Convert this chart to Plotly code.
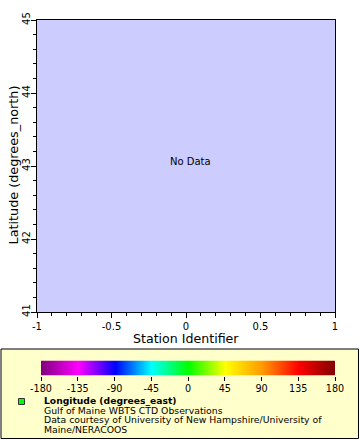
import plotly.graph_objects as go

W, H = 360, 440

# Data (empty: "No Data")
station_ids = []
latitudes = []

x_range = [-1, 1]
y_range = [41, 45]
x_ticks = [-1, -0.5, 0, 0.5, 1]
x_ticklabels = ["-1", "-0.5", "0", "0.5", "1"]
y_ticks = [41, 42, 43, 44, 45]
y_ticklabels = ["41", "42", "43", "44", "45"]
cbar_ticks = [-180, -135, -90, -45, 0, 45, 90, 135, 180]
cbar_colors = ["#800080", "#ff00ff", "#0000ff", "#00ffff", "#00ff00",
               "#ffff00", "#ff9900", "#ff0000", "#800000"]

x_title = "Station Identifier"
y_title = "Latitude (degrees_north)"
legend_title = "Longitude (degrees_east)"
legend_lines = ["Gulf of Maine WBTS CTD Observations",
                "Data courtesy of University of New Hampshire/University of",
                "Maine/NERACOOS"]

FONT = "DejaVu Sans"

def px(x):
    return x / W

def py(y):
    return 1 - y / H

n = len(cbar_ticks)
colorscale = [[i / (n - 1), c] for i, c in enumerate(cbar_colors)]

fig = go.Figure()
fig.add_trace(go.Scatter(x=station_ids, y=latitudes, mode="markers",
                         showlegend=False, hoverinfo="skip"))

# colour bar as a smooth heatmap on its own axes
fig.add_trace(go.Heatmap(
    x=cbar_ticks, y=[0, 1], z=[cbar_ticks, cbar_ticks],
    zmin=-180, zmax=180, colorscale=colorscale, zsmooth="best",
    showscale=False, hoverinfo="skip", xaxis="x2", yaxis="y2"))

fig.update_layout(
    width=W, height=H,
    margin=dict(l=0, r=0, t=0, b=0, autoexpand=False),
    paper_bgcolor="white",
    plot_bgcolor="#ccccff",
    font=dict(family=FONT, size=10, color="black"),
    showlegend=False,
    xaxis=dict(domain=[px(37), px(335)], range=x_range, tickvals=x_ticks,
               ticktext=x_ticklabels, showgrid=False, zeroline=False,
               showline=True, mirror=True, linecolor="black", linewidth=1,
               ticks="outside", ticklen=5, tickcolor="black", automargin=False,
               minor=dict(dtick=0.1, ticks="outside", ticklen=3, tickcolor="black"),
               tickfont=dict(size=10), fixedrange=True),
    yaxis=dict(domain=[py(312), py(20)], range=y_range, tickvals=y_ticks,
               ticktext=y_ticklabels, showgrid=False, zeroline=False,
               showline=True, mirror=True, linecolor="black", linewidth=1,
               ticks="outside", ticklen=5, tickcolor="black", tickangle=-90,
               automargin=False, ticklabelstandoff=-3,
               minor=dict(dtick=0.2, ticks="outside", ticklen=3, tickcolor="black"),
               tickfont=dict(size=10), fixedrange=True),
    xaxis2=dict(domain=[px(41), px(335)], range=[-180, 180], anchor="y2",
                tickvals=cbar_ticks, ticktext=[str(v) for v in cbar_ticks],
                showgrid=False, zeroline=False, showline=False,
                ticks="outside", ticklen=4, tickcolor="black", automargin=False,
                tickfont=dict(size=9.6), fixedrange=True),
    yaxis2=dict(domain=[py(375.5), py(360.5)], range=[0, 1], anchor="x2",
                visible=False, showgrid=False, zeroline=False, fixedrange=True),
)

# axis titles
fig.add_annotation(text=x_title, xref="paper", yref="paper",
                   x=px(186), y=py(338), xanchor="center", yanchor="middle",
                   showarrow=False, font=dict(size=12.6))
fig.add_annotation(text=y_title, xref="paper", yref="paper", textangle=-90,
                   x=px(13), y=py(165.5), xanchor="center", yanchor="middle",
                   showarrow=False, font=dict(size=12.8))

# legend box
fig.add_shape(type="rect", xref="paper", yref="paper",
              x0=px(1), x1=px(358.5), y0=py(438.5), y1=py(349),
              fillcolor="#ffffcc", line=dict(color="black", width=1), layer="below")
# legend marker
fig.add_shape(type="rect", xref="paper", yref="paper",
              x0=px(18.5), x1=px(24.5), y0=py(404.5), y1=py(398.5),
              fillcolor="#00ff00", line=dict(color="#333333", width=1))

fig.add_annotation(text="No Data", xref="x", yref="y", x=0.027, y=43.068,
                   showarrow=False, font=dict(size=10))

fig.add_annotation(text="<b>" + legend_title + "</b>", xref="paper", yref="paper",
                   x=px(42), y=py(400.5), xanchor="left", yanchor="middle",
                   showarrow=False, font=dict(size=9.2))
for i, line in enumerate(legend_lines):
    fig.add_annotation(text=line, xref="paper", yref="paper",
                       x=px(42), y=py(410 + 9.65 * i), xanchor="left", yanchor="middle",
                       showarrow=False, font=dict(size=9.3))

fig.write_html("out.html", config={"displayModeBar": False},
               post_script="document.body.style.margin='0';document.body.style.overflow='hidden';")
